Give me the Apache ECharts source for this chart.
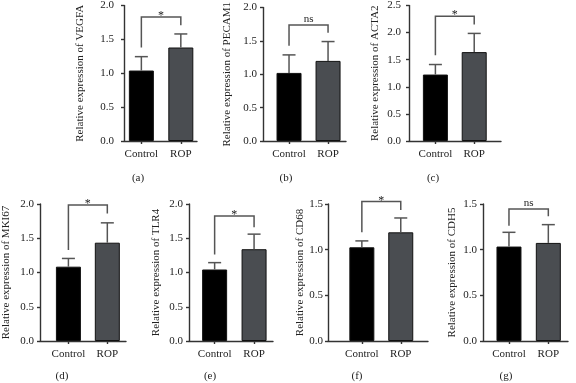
<!DOCTYPE html>
<html>
<head>
<meta charset="utf-8">
<script src="https://cdn.jsdelivr.net/npm/echarts@6/dist/echarts.min.js"></script>
<style>
  html, body { margin: 0; padding: 0; background: #fff; }
  #chart { width: 576px; height: 383px; }
</style>
</head>
<body>
<div id="chart"></div>
<script>
// 数据
const categories = ['Control', 'ROP'];
const genes = ['VEGFA', 'PECAM1', 'ACTA2', 'MKI67', 'TLR4', 'CD68', 'CDH5'];
const panelTags = ['(a)', '(b)', '(c)', '(d)', '(e)', '(f)', '(g)'];
const means = [[1.04, 1.38], [1.02, 1.20], [1.226, 1.64], [1.085, 1.435], [1.044, 1.34], [1.026, 1.19], [1.034, 1.074]];
const errs = [[0.205, 0.20], [0.27, 0.29], [0.185, 0.345], [0.12, 0.29], [0.10, 0.22], [0.07, 0.157], [0.156, 0.20]];
// 显著性括号: [横线高度, 左腿下端, 右腿下端]
const brackets = [[1.83, 1.38, 1.71], [1.737, 1.426, 1.62], [2.30, 1.58, 2.15], [1.985, 1.33, 1.86], [1.825, 1.262, 1.66], [1.528, 1.19, 1.434], [1.446, 1.263, 1.365]];
const sigLabels = ['*', 'ns', '*', '*', '*', '*', 'ns'];
const yMax = [2, 2, 2.5, 2, 2, 1.5, 1.5];
const yStep = 0.5;

// 布局（像素）
const layout = [
  { left: 124, top: 4, width: 73, xMin: -0.44, xMax: 1.41, nameGap: 38, margin: 10, tag: [138, 178] },
  { left: 263, top: 4, width: 83, xMin: -0.667, xMax: 1.46, nameGap: 30, margin: 6, tag: [286, 178] },
  { left: 409, top: 4, width: 92, xMin: -0.68, xMax: 1.69, nameGap: 28, margin: 8, tag: [433, 178] },
  { left: 39, top: 204, width: 87, xMin: -0.73, xMax: 1.48, nameGap: 28, margin: 6, tag: [62, 376] },
  { left: 189, top: 204, width: 84, xMin: -0.65, xMax: 1.48, nameGap: 27, margin: 6, tag: [210, 376] },
  { left: 328, top: 204, width: 100, xMin: -0.87, xMax: 1.70, nameGap: 20, margin: 5, tag: [357, 376] },
  { left: 483, top: 204, width: 85, xMin: -0.66, xMax: 1.50, nameGap: 25, margin: 6, tag: [506, 376] }
];
const plotHeight = 137;

const FONT = 'Liberation Serif';
const textColor = '#222';
const axisColor = '#333';
const errColor = '#555';
const barColors = ['#000000', '#4a4d51'];

const chart = echarts.init(document.getElementById('chart'));

const grid = [], xAxis = [], yAxis = [], series = [], graphic = [];

layout.forEach((L, i) => {
  grid.push({ left: L.left, top: L.top, width: L.width, height: plotHeight });

  xAxis.push({
    type: 'value', gridIndex: i, min: L.xMin, max: L.xMax,
    splitLine: { show: false },
    axisLine: { show: true, lineStyle: { color: axisColor, width: 1.4 } },
    axisTick: { show: true, length: 3, customValues: [0, 1], lineStyle: { color: axisColor, width: 1.4 } },
    axisLabel: {
      customValues: [0, 1], margin: 8,
      formatter: v => categories[Math.round(v)],
      fontFamily: FONT, fontSize: 11, color: textColor
    }
  });

  yAxis.push({
    type: 'value', gridIndex: i, min: 0, max: yMax[i], interval: yStep,
    name: 'Relative expression of ' + genes[i],
    nameLocation: 'middle', nameGap: L.nameGap,
    nameTextStyle: { fontFamily: FONT, fontSize: 11, color: textColor },
    splitLine: { show: false },
    axisLine: { show: true, onZero: false, lineStyle: { color: axisColor, width: 1.4 } },
    axisTick: { show: true, length: 3, lineStyle: { color: axisColor, width: 1.4 } },
    axisLabel: {
      margin: L.margin, formatter: v => v.toFixed(1),
      fontFamily: FONT, fontSize: 11, color: textColor
    }
  });

  // 柱
  series.push({
    type: 'bar', xAxisIndex: i, yAxisIndex: i, barWidth: 25,
    data: means[i].map((v, j) => ({ value: [j, v], itemStyle: { color: barColors[j] } })),
    itemStyle: { borderColor: '#111', borderWidth: 1 },
    silent: true, z: 2
  });

  // 误差线（只画上半部分）
  series.push({
    type: 'custom', xAxisIndex: i, yAxisIndex: i, clip: false, z: 3, silent: true,
    data: means[i].map((v, j) => [j, v, errs[i][j]]),
    renderItem: (params, api) => {
      const x = api.value(0), m = api.value(1), s = api.value(2);
      const p0 = api.coord([x, m]);
      const p1 = api.coord([x, m + s]);
      const st = { stroke: errColor, lineWidth: 1.5 };
      return {
        type: 'group', children: [
          { type: 'line', shape: { x1: p0[0], y1: p0[1], x2: p1[0], y2: p1[1] }, style: st },
          { type: 'line', shape: { x1: p1[0] - 6.5, y1: p1[1], x2: p1[0] + 6.5, y2: p1[1] }, style: st }
        ]
      };
    }
  });

  // 显著性括号
  series.push({
    type: 'custom', xAxisIndex: i, yAxisIndex: i, clip: false, z: 3, silent: true,
    data: [brackets[i]],
    renderItem: (params, api) => {
      const top = api.value(0), lb = api.value(1), rb = api.value(2);
      const a = api.coord([0, lb]), b = api.coord([0, top]);
      const c = api.coord([1, top]), d = api.coord([1, rb]);
      const lbl = sigLabels[i];
      return {
        type: 'group', children: [
          { type: 'polyline', shape: { points: [a, b, c, d] }, style: { stroke: errColor, lineWidth: 1.5, fill: null } },
          {
            type: 'text', x: (b[0] + c[0]) / 2, y: b[1] - (lbl === '*' ? 1 : 6),
            style: { text: lbl, fontFamily: FONT, fontSize: lbl === '*' ? 12 : 11, fill: textColor, align: 'center', verticalAlign: 'middle' }
          }
        ]
      };
    }
  });

  graphic.push({
    type: 'text', x: L.tag[0], y: L.tag[1],
    style: { text: panelTags[i], fontFamily: FONT, fontSize: 11, fill: textColor, align: 'center', verticalAlign: 'middle' }
  });
});

chart.setOption({
  animation: false,
  backgroundColor: '#fff',
  grid, xAxis, yAxis, series, graphic
});

window.addEventListener('resize', () => chart.resize());
</script>
</body>
</html>
